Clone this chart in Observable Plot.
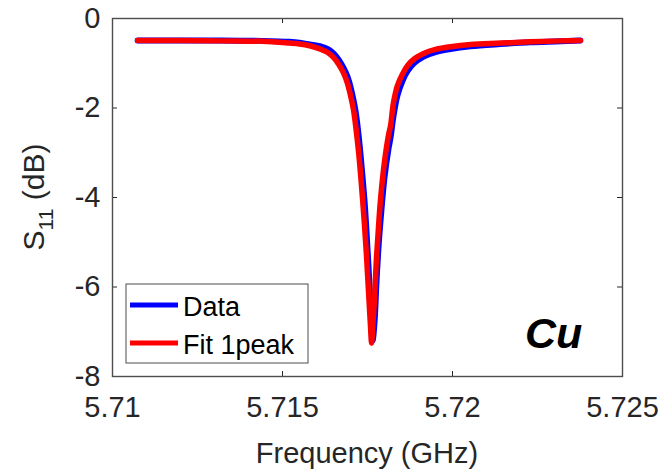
<!DOCTYPE html>
<html>
<head>
<meta charset="utf-8">
<script src="https://cdn.jsdelivr.net/npm/d3@7"></script>
<script src="https://cdn.jsdelivr.net/npm/@observablehq/plot@0.6"></script>
<style>
  html, body { margin: 0; padding: 0; background: #fff; }
  #chart { width: 669px; height: 475px; }
  svg { font-family: "Liberation Sans", Arial, Helvetica, sans-serif; }
</style>
</head>
<body>
<div id="chart"></div>
<script>
// Frequency grid (GHz)
const freq = [5.71074, 5.7120, 5.7132, 5.7144, 5.7152, 5.7155, 5.7158, 5.7161, 5.71635, 5.7165,
  5.71665, 5.71679, 5.71691, 5.7170, 5.71709, 5.71715, 5.71724, 5.71732, 5.71741, 5.71747,
  5.71753, 5.71759, 5.71762, 5.71765, 5.71771, 5.71776, 5.71782, 5.71788, 5.7180, 5.71812,
  5.71818, 5.71826, 5.71838, 5.71853, 5.71868, 5.71888, 5.71915, 5.7195, 5.71994, 5.72053,
  5.72141, 5.72229, 5.72318, 5.72376];
// Measured S11 (dB)
const dataS11 = [-0.49, -0.49, -0.49, -0.50, -0.52, -0.54, -0.58, -0.62, -0.69, -0.78,
  -0.92, -1.10, -1.30, -1.53, -1.83, -2.08, -2.62, -3.25, -4.05, -4.75,
  -5.55, -6.45, -6.95, -7.2, -6.75, -5.95, -5.15, -4.55, -3.55, -2.9,
  -2.65, -2.2, -1.72, -1.39, -1.17, -0.99, -0.85, -0.75, -0.68, -0.62,
  -0.57, -0.53, -0.51, -0.49];
// Single-peak fit S11 (dB)
const fitS11 = [-0.49, -0.49, -0.50, -0.51, -0.55, -0.57, -0.61, -0.68, -0.77, -0.87,
  -1.02, -1.21, -1.45, -1.72, -2.05, -2.39, -3.0, -3.7, -4.6, -5.3,
  -6.1, -6.9, -7.25, -6.95, -6.2, -5.4, -4.7, -4.07, -3.2, -2.6,
  -2.39, -1.9, -1.50, -1.24, -1.05, -0.90, -0.78, -0.69, -0.63, -0.58,
  -0.55, -0.52, -0.50, -0.49];

const seriesNames = ["Data", "Fit 1peak"];
const seriesColors = ["#0000ff", "#ff0000"];
const xTicks = [5.71, 5.715, 5.72, 5.725];
const xTickLabels = ["5.71", "5.715", "5.72", "5.725"];
const yTicks = [-8, -6, -4, -2, 0];
const yTickLabels = ["-8", "-6", "-4", "-2", "0"];
const xLabel = "Frequency (GHz)";
const yLabelMain = "S";
const yLabelSub = "11";
const yLabelRest = " (dB)";
const annotation = "Cu";

const W = 669, H = 475;
const mL = 112, mR = 47, mT = 18, mB = 99;
const innerW = W - mL - mR, innerH = H - mT - mB;
const txt = "#262626";

const dataRows = freq.map((f, i) => ({f, v: dataS11[i]}));
const fitRows = freq.map((f, i) => ({f, v: fitS11[i]}));

const plot = Plot.plot({
  width: W, height: H,
  marginLeft: mL, marginRight: mR, marginTop: mT, marginBottom: mB,
  style: {fontFamily: '"Liberation Sans", Arial, sans-serif', background: "#fff", overflow: "visible"},
  x: {domain: [5.71, 5.725]},
  y: {domain: [-8, 0]},
  marks: [
    Plot.line(dataRows, {x: "f", y: "v", stroke: seriesColors[0], strokeWidth: 6, curve: "catmull-rom"}),
    Plot.line(fitRows, {x: "f", y: "v", stroke: seriesColors[1], strokeWidth: 5.5, curve: "catmull-rom"}),
    Plot.tickX(xTicks, {x: d => d, insetTop: innerH - 5, stroke: txt, strokeWidth: 1}),
    Plot.tickX(xTicks, {x: d => d, insetBottom: innerH - 5, stroke: txt, strokeWidth: 1}),
    Plot.tickY(yTicks, {y: d => d, insetRight: innerW - 5, stroke: txt, strokeWidth: 1}),
    Plot.tickY(yTicks, {y: d => d, insetLeft: innerW - 5, stroke: txt, strokeWidth: 1}),
    Plot.frame({stroke: "#4d4d4d", strokeWidth: 1.4}),
    Plot.axisX({ticks: xTicks, tickSize: 0, tickPadding: 20, fontSize: 29, label: null,
      tickFormat: d => xTickLabels[xTicks.indexOf(d)], fill: txt}),
    Plot.axisY({ticks: yTicks, tickSize: 0, tickPadding: 12, fontSize: 29, label: null,
      tickFormat: d => yTickLabels[yTicks.indexOf(d)], fill: txt})
  ]
});
document.getElementById("chart").appendChild(plot);

const svg = d3.select(plot);
// x label
svg.append("text")
  .attr("x", mL + innerW / 2).attr("y", 463)
  .attr("text-anchor", "middle").attr("font-size", 29).attr("fill", txt)
  .text(xLabel);
// y label with subscript
const yl = svg.append("text")
  .attr("transform", `translate(44,${mT + innerH / 2}) rotate(-90)`)
  .attr("text-anchor", "middle").attr("font-size", 30).attr("fill", txt);
yl.append("tspan").text(yLabelMain);
yl.append("tspan").attr("font-size", 21).attr("dy", 9).text(yLabelSub);
yl.append("tspan").attr("dy", -9).text(yLabelRest);

// legend
const lg = svg.append("g");
lg.append("rect").attr("x", 126).attr("y", 284).attr("width", 182).attr("height", 79)
  .attr("fill", "#fff").attr("stroke", "#4d4d4d").attr("stroke-width", 1);
seriesNames.forEach((name, i) => {
  const cy = 305 + i * 38;
  lg.append("line").attr("x1", 130).attr("x2", 178).attr("y1", cy).attr("y2", cy)
    .attr("stroke", seriesColors[i]).attr("stroke-width", 5);
  lg.append("text").attr("x", 183).attr("y", cy + 11).attr("font-size", 27).attr("fill", "#000")
    .attr("text-anchor", "start").text(name);
});

// annotation
svg.append("text").attr("x", 525).attr("y", 348).attr("text-anchor", "start")
  .attr("font-size", 43).attr("font-weight", "bold").attr("font-style", "italic").attr("fill", "#000")
  .text(annotation);
</script>
</body>
</html>
